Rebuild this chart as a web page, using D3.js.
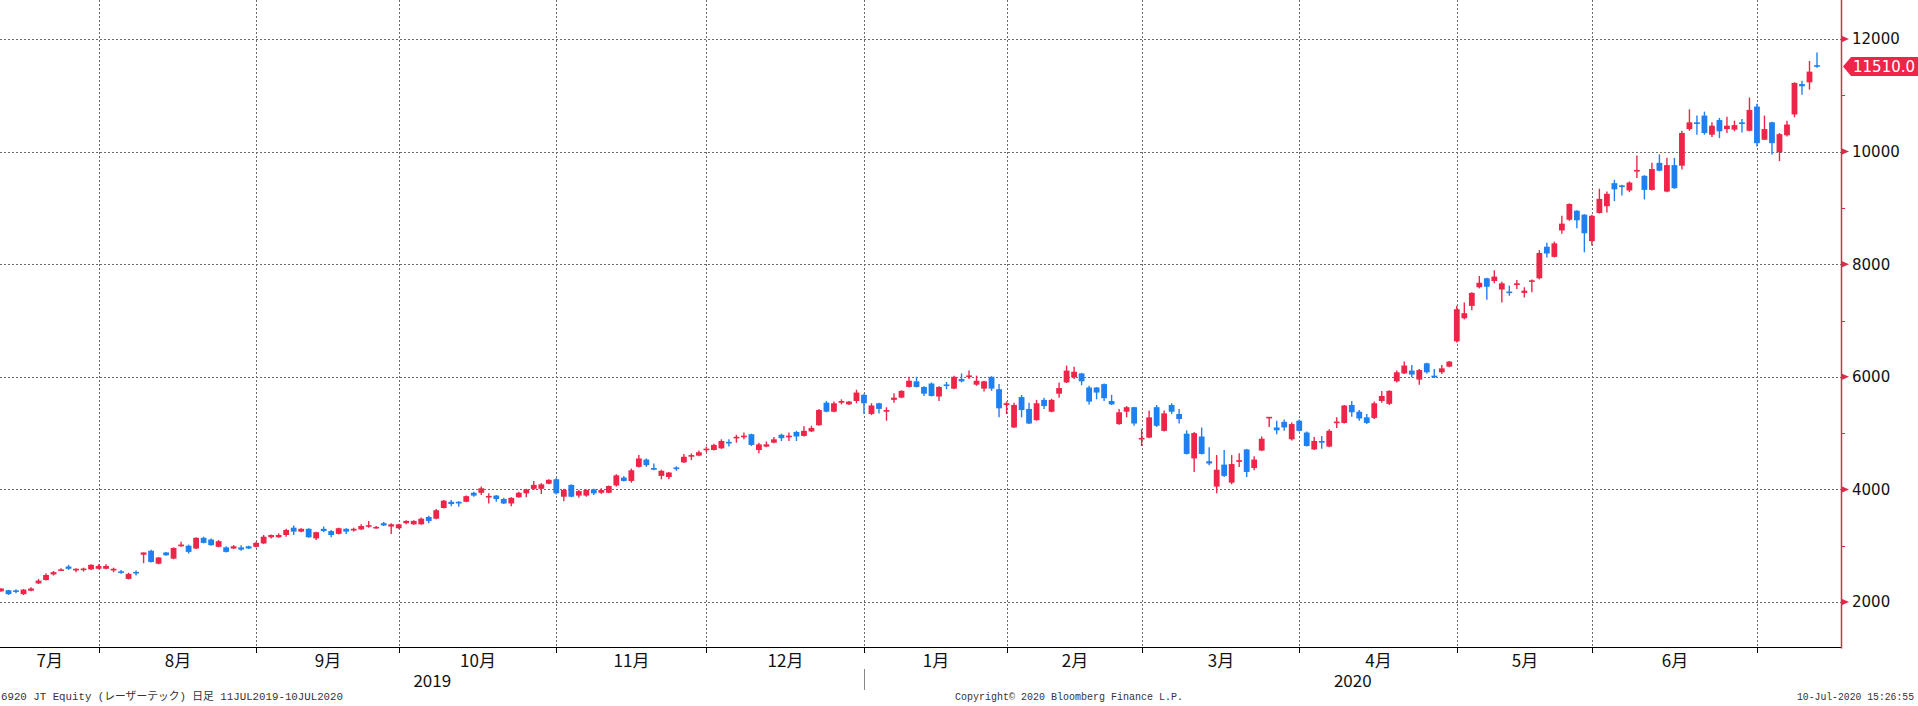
<!DOCTYPE html>
<html><head><meta charset="utf-8">
<script src="https://cdn.jsdelivr.net/npm/d3@7"></script>
<style>html,body{margin:0;padding:0;background:#fff;overflow:hidden}</style>
</head><body><svg id="c" width="1918" height="706"></svg>
<script>
const dates = [
"2019-07-11","2019-07-12","2019-07-16","2019-07-17","2019-07-18","2019-07-19","2019-07-22","2019-07-23","2019-07-24","2019-07-25","2019-07-26","2019-07-29","2019-07-30","2019-07-31",
"2019-08-01","2019-08-02","2019-08-05","2019-08-06","2019-08-07","2019-08-08","2019-08-09","2019-08-13","2019-08-14","2019-08-15","2019-08-16","2019-08-19","2019-08-20","2019-08-21","2019-08-22","2019-08-23","2019-08-26","2019-08-27","2019-08-28","2019-08-29","2019-08-30",
"2019-09-02","2019-09-03","2019-09-04","2019-09-05","2019-09-06","2019-09-09","2019-09-10","2019-09-11","2019-09-12","2019-09-13","2019-09-17","2019-09-18","2019-09-19","2019-09-20","2019-09-24","2019-09-25","2019-09-26","2019-09-27","2019-09-30",
"2019-10-01","2019-10-02","2019-10-03","2019-10-04","2019-10-07","2019-10-08","2019-10-09","2019-10-10","2019-10-11","2019-10-15","2019-10-16","2019-10-17","2019-10-18","2019-10-21","2019-10-23","2019-10-24","2019-10-25","2019-10-28","2019-10-29","2019-10-30","2019-10-31",
"2019-11-01","2019-11-05","2019-11-06","2019-11-07","2019-11-08","2019-11-11","2019-11-12","2019-11-13","2019-11-14","2019-11-15","2019-11-18","2019-11-19","2019-11-20","2019-11-21","2019-11-22","2019-11-25","2019-11-26","2019-11-27","2019-11-28","2019-11-29",
"2019-12-02","2019-12-03","2019-12-04","2019-12-05","2019-12-06","2019-12-09","2019-12-10","2019-12-11","2019-12-12","2019-12-13","2019-12-16","2019-12-17","2019-12-18","2019-12-19","2019-12-20","2019-12-23","2019-12-24","2019-12-25","2019-12-26","2019-12-27","2019-12-30",
"2020-01-06","2020-01-07","2020-01-08","2020-01-09","2020-01-10","2020-01-14","2020-01-15","2020-01-16","2020-01-17","2020-01-20","2020-01-21","2020-01-22","2020-01-23","2020-01-24","2020-01-27","2020-01-28","2020-01-29","2020-01-30","2020-01-31",
"2020-02-03","2020-02-04","2020-02-05","2020-02-06","2020-02-07","2020-02-10","2020-02-12","2020-02-13","2020-02-14","2020-02-17","2020-02-18","2020-02-19","2020-02-20","2020-02-21","2020-02-25","2020-02-26","2020-02-27","2020-02-28",
"2020-03-02","2020-03-03","2020-03-04","2020-03-05","2020-03-06","2020-03-09","2020-03-10","2020-03-11","2020-03-12","2020-03-13","2020-03-16","2020-03-17","2020-03-18","2020-03-19","2020-03-23","2020-03-24","2020-03-25","2020-03-26","2020-03-27","2020-03-30","2020-03-31",
"2020-04-01","2020-04-02","2020-04-03","2020-04-06","2020-04-07","2020-04-08","2020-04-09","2020-04-10","2020-04-13","2020-04-14","2020-04-15","2020-04-16","2020-04-17","2020-04-20","2020-04-21","2020-04-22","2020-04-23","2020-04-24","2020-04-27","2020-04-28","2020-04-30",
"2020-05-01","2020-05-07","2020-05-08","2020-05-11","2020-05-12","2020-05-13","2020-05-14","2020-05-15","2020-05-18","2020-05-19","2020-05-20","2020-05-21","2020-05-22","2020-05-25","2020-05-26","2020-05-27","2020-05-28","2020-05-29",
"2020-06-01","2020-06-02","2020-06-03","2020-06-04","2020-06-05","2020-06-08","2020-06-09","2020-06-10","2020-06-11","2020-06-12","2020-06-15","2020-06-16","2020-06-17","2020-06-18","2020-06-19","2020-06-22","2020-06-23","2020-06-24","2020-06-25","2020-06-26","2020-06-29","2020-06-30",
"2020-07-01","2020-07-02","2020-07-03","2020-07-06","2020-07-07","2020-07-08","2020-07-09","2020-07-10"];

const open = [2190,2210,2205,2140,2200,2330,2390,2490,2560,2630,2560,2570,2580,2590,2590,2560,2540,2410,2530,2840,
2910,2680,2880,2770,2990,3000,2950,3140,3110,2980,2970,2950,2970,2990,2980,3040,3150,3150,3190,3320,
3250,3300,3130,3300,3260,3210,3300,3270,3290,3340,3310,3400,3340,3310,3400,3380,3380,3510,3480,3670,
3780,3780,3780,3940,3940,3860,3890,3830,3750,3860,3930,4010,4010,4100,4180,3870,4080,3890,3890,4000,
3940,3940,4070,4210,4150,4400,4530,4380,4240,4220,4390,4480,4580,4600,4700,4700,4730,4840,4910,4930,
4980,4700,4760,4830,4970,4930,5020,4950,5030,5140,5540,5380,5540,5510,5570,5680,5340,5530,5380,5590,
5630,5820,5920,5820,5880,5650,5860,5790,5960,6000,5860,5790,6000,5780,5500,5100,5640,5430,5230,5590,
5380,5700,5900,5990,6060,5810,5810,5870,5570,5160,5380,5460,4890,4920,5460,5040,5500,5340,4990,4550,
4940,4500,4050,4440,4120,4490,4710,4380,4690,5270,5100,5200,4890,5220,5010,4710,4860,4760,5180,5180,
5500,5380,5280,5270,5570,5520,5920,6060,6110,5950,6240,6020,6080,6180,6630,7040,7260,7590,7750,7700,
7550,7510,7630,7490,7690,7750,8310,8130,8600,8790,8950,8880,8410,8910,9030,9440,9400,9310,9650,9570,
9320,9800,9290,9760,9750,10400,10520,10640,10300,10560,10400,10390,10520,10370,10800,10210,10520,9990,10290,10660,
11200,11230,11530];

const high = [2245,2215,2225,2230,2260,2410,2510,2550,2600,2660,2600,2610,2670,2670,2670,2610,2570,2520,2560,2880,
2930,2800,2890,2970,3070,3020,3150,3160,3130,3100,2990,3010,3010,3000,3070,3190,3200,3220,3300,3360,
3310,3310,3250,3340,3280,3320,3310,3320,3380,3440,3350,3420,3400,3390,3450,3450,3500,3530,3650,3810,
3810,3790,3890,3960,4050,3930,3900,3850,3860,3960,4010,4150,4110,4180,4200,4010,4090,3990,4000,4010,
4020,4070,4270,4240,4370,4610,4550,4460,4350,4310,4410,4630,4640,4690,4760,4810,4890,4890,4970,5010,
4990,4830,4850,4930,4990,5010,5040,5120,5130,5430,5570,5560,5600,5570,5770,5700,5530,5540,5460,5710,
5760,6000,6000,5830,5900,5830,5910,6020,6060,6110,6020,5930,6010,5870,5560,5540,5680,5540,5590,5630,
5610,5900,6200,6180,6070,5840,5820,5880,5680,5430,5480,5470,5070,5400,5500,5400,5530,5430,5050,5020,
5100,4750,4610,4700,4610,4640,4720,4590,4940,5280,5220,5240,5190,5240,5030,4930,4950,5070,5280,5500,
5570,5410,5340,5560,5750,5760,6110,6270,6210,6140,6250,6140,6210,6280,7260,7320,7500,7790,7760,7890,
7690,7620,7720,7590,7730,8250,8380,8400,8860,9080,8960,8890,8880,9340,9290,9500,9410,9470,9930,9580,
9800,9950,9890,9890,10370,10750,10640,10710,10520,10600,10620,10550,10580,10960,10850,10640,10530,10330,10550,11230,
11260,11610,11760];

const low = [2180,2125,2155,2125,2190,2320,2380,2470,2550,2570,2530,2540,2570,2580,2580,2530,2500,2400,2470,2690,
2700,2670,2820,2760,2980,2860,2940,3040,3000,2970,2880,2940,2910,2940,2970,3030,3130,3140,3160,3190,
3240,3140,3100,3240,3150,3200,3210,3250,3280,3320,3300,3350,3210,3300,3380,3370,3370,3400,3470,3660,
3700,3690,3770,3870,3900,3750,3780,3740,3700,3850,3860,3990,3920,4090,3910,3790,3860,3850,3870,3900,
3920,3930,4050,4140,4120,4390,4400,4340,4180,4180,4330,4470,4520,4590,4660,4690,4720,4760,4830,4890,
4770,4640,4750,4820,4860,4860,4860,4940,5020,5130,5370,5370,5510,5500,5530,5340,5320,5350,5220,5540,
5620,5810,5810,5660,5650,5570,5780,5780,5900,5960,5840,5740,5750,5280,5340,5090,5280,5160,5220,5430,
5370,5630,5890,5960,5850,5510,5600,5570,5500,5150,5280,5130,4770,4910,5110,5030,5340,5170,4620,4310,
4620,4430,3930,4220,4090,4400,4220,4340,4680,5110,4980,5040,4870,5030,4760,4700,4720,4750,5090,5170,
5290,5220,5160,5250,5540,5500,5900,6050,5990,5860,6060,5980,6050,6170,6610,7020,7180,7570,7370,7660,
7320,7440,7560,7410,7500,7730,8120,8120,8540,8770,8640,8210,8330,8900,8920,9120,9220,9280,9530,9150,
9310,9650,9280,9340,9680,10370,10300,10300,10260,10240,10330,10360,10340,10360,10090,10210,9950,9830,10270,10610,
11010,11100,11490];

const close = [2240,2140,2180,2220,2240,2380,2480,2530,2570,2590,2590,2590,2660,2640,2640,2590,2520,2500,2510,2880,
2710,2790,2830,2960,3020,2890,3140,3050,3010,3080,2890,2990,2930,2950,3050,3160,3190,3190,3280,3250,
3300,3150,3240,3260,3190,3310,3250,3300,3350,3360,3330,3360,3380,3380,3440,3440,3480,3440,3630,3800,
3740,3750,3880,3890,4020,3880,3830,3750,3850,3940,4000,4080,4090,4170,3930,3990,3870,3970,3990,3930,
3990,4060,4250,4150,4340,4550,4430,4350,4330,4300,4360,4580,4610,4660,4720,4790,4860,4820,4930,4950,
4790,4800,4800,4890,4910,4950,4940,5040,5090,5410,5380,5530,5570,5560,5720,5530,5490,5430,5410,5630,
5750,5930,5820,5700,5660,5820,5840,6000,5920,6020,5930,5920,5790,5440,5530,5500,5410,5170,5530,5480,
5590,5800,6110,6090,5920,5560,5720,5620,5510,5370,5460,5170,4910,5280,5130,5350,5380,5250,4630,5000,
4630,4460,4350,4240,4450,4520,4310,4530,4900,5280,5050,5100,5160,5040,4770,4860,4830,5040,5200,5490,
5370,5260,5180,5530,5660,5750,6080,6200,6040,6120,6080,5990,6150,6270,7200,7130,7490,7670,7600,7780,
7660,7490,7660,7530,7710,8200,8190,8370,8720,9070,8780,8550,8860,9160,9250,9330,9370,9450,9670,9320,
9690,9660,9760,9350,10330,10520,10490,10330,10460,10360,10460,10470,10490,10740,10150,10400,10150,10310,10480,11220,
11160,11420,11510];

const yTickValues = [2000,4000,6000,8000,10000,12000];
const yMinorValues = [3000,5000,7000,9000,11000];
const monthLabels = ["7月","8月","9月","10月","11月","12月","1月","2月","3月","4月","5月","6月"];
const yearLabels = ["2019","2020"];
const lastPriceLabel = "11510.0";
const footerLeft = "6920 JT Equity (レーザーテック)  日足 11JUL2019-10JUL2020";
const footerMid = "Copyright© 2020 Bloomberg Finance L.P.";
const footerRight = "10-Jul-2020 15:26:55";

const UP = "#ee2548", DOWN = "#1f80f0", AXISRED = "#e0284a";
const plotRight = 1841, axisY = 647.5;

const svg = d3.select("#c");
svg.append("rect").attr("width",1918).attr("height",706).attr("fill","#fff");

const x = d3.scalePoint().domain(dates).range([1, 1817]);
const y = d3.scaleLinear().domain([2000, 12000]).range([602, 39]);

// month boundaries
const bIdx = [];
for (let i = 1; i < dates.length; i++) if (dates[i].slice(0,7) !== dates[i-1].slice(0,7)) bIdx.push(i-1);
const bx = bIdx.map(i => Math.round(x(dates[i])) + 0.5);

const grid = svg.append("g").attr("stroke","#6a6a6a").attr("stroke-width",1).attr("stroke-dasharray","2,2").attr("shape-rendering","crispEdges");
grid.selectAll("line.h").data(yTickValues).join("line").attr("class","h")
  .attr("x1",0).attr("x2",plotRight).attr("y1",d=>Math.round(y(d))+0.5).attr("y2",d=>Math.round(y(d))+0.5);
grid.selectAll("line.v").data(bx).join("line").attr("class","v")
  .attr("x1",d=>d).attr("x2",d=>d).attr("y1",0).attr("y2",axisY);

// candles
const bodyW = 5.8;
const cg = svg.append("g");
dates.forEach((d,i) => {
  const c = close[i] >= open[i] ? UP : DOWN;
  const cx = x(d);
  cg.append("line").attr("x1",cx).attr("x2",cx).attr("y1",y(high[i])).attr("y2",y(low[i]))
    .attr("stroke",c).attr("stroke-width",1.4);
  const t = y(Math.max(open[i],close[i])), b = y(Math.min(open[i],close[i]));
  const h = Math.max(b - t, 1.6);
  cg.append("rect").attr("x",cx - bodyW/2).attr("y",(t+b)/2 - h/2).attr("width",bodyW).attr("height",h).attr("fill",c);
});

// bottom axis
svg.append("line").attr("x1",0).attr("x2",plotRight).attr("y1",axisY).attr("y2",axisY)
  .attr("stroke","#000").attr("stroke-width",1.5).attr("shape-rendering","crispEdges");
svg.selectAll("line.mt").data(bx).join("line").attr("class","mt")
  .attr("x1",d=>d).attr("x2",d=>d).attr("y1",axisY).attr("y2",axisY+5)
  .attr("stroke","#000").attr("stroke-width",1).attr("shape-rendering","crispEdges");

const edges = [0, ...bx];
svg.selectAll("text.m").data(monthLabels).join("text").attr("class","m")
  .attr("x",(d,i)=> (edges[i]+edges[i+1])/2).attr("y",667)
  .attr("text-anchor","middle").attr("font-family","'Noto Sans CJK JP', sans-serif")
  .attr("font-size",17).attr("fill","#111").text(d=>d);

const decEnd = bx[5];
const yearCenters = [decEnd/2, (decEnd + plotRight)/2];
svg.selectAll("text.yr").data(yearLabels).join("text").attr("class","yr")
  .attr("x",(d,i)=>yearCenters[i]).attr("y",687).attr("text-anchor","middle")
  .attr("font-family","'Noto Sans CJK JP', sans-serif").attr("font-size",17).attr("fill","#111").text(d=>d);
svg.append("line").attr("x1",decEnd).attr("x2",decEnd).attr("y1",669).attr("y2",690)
  .attr("stroke","#888").attr("stroke-width",1).attr("shape-rendering","crispEdges");

// right axis
svg.append("line").attr("x1",plotRight+0.5).attr("x2",plotRight+0.5).attr("y1",0).attr("y2",axisY+1)
  .attr("stroke",AXISRED).attr("stroke-width",1.5);
svg.selectAll("path.tri").data(yTickValues).join("path").attr("class","tri")
  .attr("d",d=>{const yy=y(d); return `M${plotRight},${yy-3.5}L${plotRight+8},${yy}L${plotRight},${yy+3.5}Z`;})
  .attr("fill",AXISRED);
svg.selectAll("line.mn").data(yMinorValues).join("line").attr("class","mn")
  .attr("x1",plotRight).attr("x2",plotRight+4).attr("y1",d=>Math.round(y(d))+0.5).attr("y2",d=>Math.round(y(d))+0.5)
  .attr("stroke",AXISRED).attr("stroke-width",1);
svg.selectAll("text.yl").data(yTickValues).join("text").attr("class","yl")
  .attr("x",1852).attr("y",d=>y(d)).attr("dy","0.36em")
  .attr("font-family","'DejaVu Sans', sans-serif").attr("font-size",15).attr("fill","#111").text(d=>d);

// last price tag
const ly = y(close[close.length-1]);
svg.append("path").attr("d",`M1843,${ly}L1851,${ly-9.5}L1918,${ly-9.5}L1918,${ly+9.5}L1851,${ly+9.5}Z`).attr("fill",UP);
svg.append("text").attr("x",1853).attr("y",ly).attr("dy","0.36em").attr("font-family","'DejaVu Sans', sans-serif")
  .attr("font-size",15).attr("fill","#fff").text(lastPriceLabel);

// footer
const ff = "'Liberation Mono', 'Noto Sans CJK JP', monospace";
svg.append("text").attr("x",1).attr("y",700).attr("font-family",ff).attr("font-size",11).attr("fill","#333")
  .attr("textLength",342).attr("lengthAdjust","spacingAndGlyphs").text(footerLeft);
svg.append("text").attr("x",955).attr("y",700).attr("font-family",ff).attr("font-size",11).attr("fill","#333")
  .attr("textLength",228).attr("lengthAdjust","spacingAndGlyphs").text(footerMid);
svg.append("text").attr("x",1797).attr("y",700).attr("font-family",ff).attr("font-size",10).attr("fill","#333")
  .attr("textLength",117).attr("lengthAdjust","spacingAndGlyphs").text(footerRight);
</script></body></html>
